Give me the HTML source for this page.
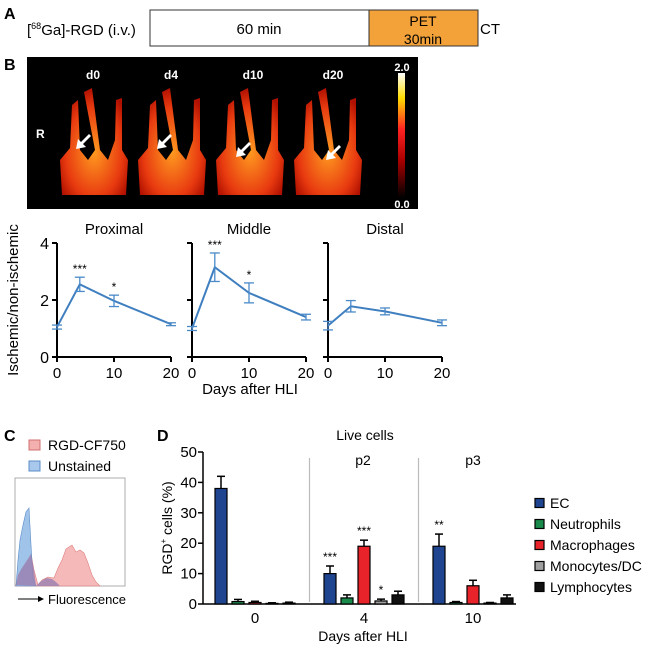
<!DOCTYPE html>
<html><head><meta charset="utf-8">
<style>
body{margin:0;background:#fff;}
svg{display:block;font-family:"Liberation Sans",Arial,sans-serif;}
</style></head>
<body>
<svg width="655" height="651" viewBox="0 0 655 651">
<defs>
<linearGradient id="cbar" x1="0" y1="1" x2="0" y2="0">
<stop offset="0" stop-color="#000"/><stop offset="0.3" stop-color="#a00"/><stop offset="0.55" stop-color="#f22"/><stop offset="0.8" stop-color="#fd0"/><stop offset="1" stop-color="#fff"/></linearGradient>
<radialGradient id="heat" cx="0.5" cy="0.6" r="0.6"><stop offset="0" stop-color="#ff9a20"/><stop offset="0.7" stop-color="#e83a10"/><stop offset="1" stop-color="#b01000"/></radialGradient>
<path id="arrow" d="M0,0 L2,-10 L5,-7 L13,-15 L15,-13 L7,-5 L10,-2 Z" fill="#fff"/>
</defs>

<!-- Panel A -->
<text x="4" y="19" font-size="16" font-weight="bold">A</text>
<text x="27" y="35" font-size="15">[<tspan font-size="9" dy="-6">68</tspan><tspan dy="6">Ga]-RGD (i.v.)</tspan></text>
<rect x="150" y="10" width="219" height="36" fill="#fff" stroke="#333"/>
<text x="259" y="34" font-size="15" text-anchor="middle">60 min</text>
<rect x="369" y="10" width="109" height="36" fill="#f3a23a" stroke="#333"/>
<text x="423" y="26" font-size="14" text-anchor="middle">PET</text>
<text x="423" y="44" font-size="14" text-anchor="middle">30min</text>
<text x="480" y="34" font-size="15">CT</text>

<!-- Panel B image -->
<text x="4" y="70" font-size="16" font-weight="bold">B</text>
<g>
<rect x="27" y="57" width="391" height="152" fill="#000"/>
<g id="mouse">
<path d="M62,195 L60,160 L70,148 L72,105 L78,100 L80,150 L88,160 L95,150 L84,92 L92,88 L100,150 L108,160 L115,140 L116,100 L122,98 L122,150 L128,160 L126,195 Z" fill="url(#heat)"/>
</g>
<use href="#mouse" x="78"/><use href="#mouse" x="156"/><use href="#mouse" x="234"/>
<text x="93" y="79" font-size="12" font-weight="bold" fill="#fff" text-anchor="middle">d0</text>
<text x="171" y="79" font-size="12" font-weight="bold" fill="#fff" text-anchor="middle">d4</text>
<text x="253" y="79" font-size="12" font-weight="bold" fill="#fff" text-anchor="middle">d10</text>
<text x="333" y="79" font-size="12" font-weight="bold" fill="#fff" text-anchor="middle">d20</text>
<text x="36" y="138" font-size="12" font-weight="bold" fill="#fff">R</text>
<use href="#arrow" x="76" y="149"/>
<use href="#arrow" x="157" y="149"/>
<use href="#arrow" x="236" y="157"/>
<use href="#arrow" x="326" y="160"/>
<rect x="398" y="73" width="7" height="125" fill="url(#cbar)"/>
<text x="402" y="71" font-size="11" font-weight="bold" fill="#fff" text-anchor="middle">2.0</text>
<text x="402" y="208" font-size="11" font-weight="bold" fill="#fff" text-anchor="middle">0.0</text>
</g>

<g id="lineCharts"></g>
<text transform="translate(18,300) rotate(-90)" font-size="15" text-anchor="middle">Ischemic/non-ischemic</text>
<text x="250" y="394" font-size="15" text-anchor="middle">Days after HLI</text>

<!-- Panel C -->
<text x="4" y="441" font-size="16" font-weight="bold">C</text>
<rect x="29" y="440" width="11" height="10" fill="#f4b0ae" stroke="#d07070"/>
<text x="48" y="450" font-size="14">RGD-CF750</text>
<rect x="29" y="461" width="11" height="10" fill="#a8c8ec" stroke="#5a8cc8"/>
<text x="48" y="471" font-size="14">Unstained</text>
<g>
<rect x="15" y="478" width="110" height="108" fill="#fff" stroke="#999" stroke-width="0.8"/>
<path d="M16,585 L18,575 L22,568 L28,559 L31,554 L34,570 L38,585 L42,580 L48,577 L54,578 L58,568 L62,560 L66,549 L72,545 L76,552 L80,550 L84,553 L88,563 L92,575 L96,582 L100,586 L16,586Z" fill="#f2a8a8" fill-opacity="0.8" stroke="#e08080" stroke-width="0.6"/>
<path d="M16,586 L18,560 L20,540 L23,525 L26,512 L29,508 L31,545 L33,578 L36,586Z" fill="#8fb8e6" fill-opacity="0.85" stroke="#5a8cc8" stroke-width="0.6"/>
<path d="M16,585 L18,575 L22,568 L28,559 L31,554 L34,570 L36,586Z M36,586 L40,582 L46,578 L52,579 L56,582 L60,586Z" fill="#9a80b0" fill-opacity="0.8"/>
</g>
<line x1="18" y1="599" x2="40" y2="599" stroke="#000"/>
<path d="M38,596 L44,599 L38,602Z" fill="#000"/>
<text x="48" y="604" font-size="13">Fluorescence</text>

<!-- Panel D -->
<text x="157" y="441" font-size="16" font-weight="bold">D</text>
<g id="barChart"></g>
<text transform="translate(172,528) rotate(-90)" font-size="14" text-anchor="middle">RGD<tspan font-size="8" dy="-6">+</tspan><tspan dy="6"> cells (%)</tspan></text>
<text x="365" y="440" font-size="14" text-anchor="middle">Live cells</text>
<text x="363" y="465" font-size="14" text-anchor="middle">p2</text>
<text x="473" y="465" font-size="14" text-anchor="middle">p3</text>
<text x="363" y="641" font-size="14" text-anchor="middle">Days after HLI</text>
<g id="legendD"></g>
</svg>
<script>
// ---- Panel B data ----
const days = [0, 4, 10, 20];
const panelTitles = ["Proximal", "Middle", "Distal"];
const proximalMean = [1.05, 2.55, 1.97, 1.15];
const proximalErr = [0.07, 0.25, 0.2, 0.05];
const middleMean = [1.0, 3.15, 2.25, 1.4];
const middleErr = [0.07, 0.5, 0.35, 0.1];
const distalMean = [1.1, 1.78, 1.6, 1.2];
const distalErr = [0.15, 0.2, 0.12, 0.1];
const proximalStars = ["", "***", "*", ""];
const middleStars = ["", "***", "*", ""];
const distalStars = ["", "", "", ""];
const yTicksB = [0, 2, 4];
const xTicksB = [0, 10, 20];

// ---- Panel D data ----
const groups = ["0", "4", "10"];
const cellTypes = ["EC", "Neutrophils", "Macrophages", "Monocytes/DC", "Lymphocytes"];
const ecVals = [38, 10, 19];
const ecErr = [4, 2.5, 4];
const neutVals = [0.8, 2, 0.5];
const neutErr = [0.7, 1, 0.3];
const macroVals = [0.5, 19, 6];
const macroErr = [0.4, 2, 1.8];
const monoVals = [0.2, 1, 0.3];
const monoErr = [0.2, 0.6, 0.2];
const lymphVals = [0.3, 3, 2];
const lymphErr = [0.3, 1.2, 1];
const starsD = [["", "", "", "", ""], ["***", "", "***", "*", ""], ["**", "", "", "", ""]];
const yTicksD = [0, 10, 20, 30, 40, 50];
const colorsD = ["#1f4591", "#1a8a4a", "#e8232a", "#a0a0a0", "#111"];

const NS = "http://www.w3.org/2000/svg";
function mk(tag, attrs, parent) {
  const e = document.createElementNS(NS, tag);
  for (const k in attrs) e.setAttribute(k, attrs[k]);
  parent.appendChild(e);
  return e;
}

// Line charts
const lc = document.getElementById("lineCharts");
const panelX0 = [57, 192, 328];
const means = [proximalMean, middleMean, distalMean];
const errs = [proximalErr, middleErr, distalErr];
const stars = [proximalStars, middleStars, distalStars];
const yB = v => 357 - v * 28.5;
panelTitles.forEach((t, p) => {
  const x0 = panelX0[p];
  const xB = d => x0 + d * 5.7;
  const g = mk("g", {}, lc);
  
  
  const tt = mk("text", {x: x0 + 57, y: 234, "font-size": 15, "text-anchor": "middle"}, g);
  tt.textContent = t;
  
  
  mk("line", {x1: x0, y1: yB(4), x2: x0, y2: yB(0), stroke: "#000", "stroke-width": 2}, g);
  mk("line", {x1: x0, y1: yB(0), x2: xB(20), y2: yB(0), stroke: "#000", "stroke-width": 2}, g);
  yTicksB.forEach(v => {
    mk("line", {x1: x0 - 5, y1: yB(v), x2: x0, y2: yB(v), stroke: "#000", "stroke-width": 2}, g);
    if (p === 0) {
      const l = mk("text", {x: x0 - 8, y: yB(v) + 6, "font-size": 16, "text-anchor": "end"}, g);
      l.textContent = v;
      
      
    }
  });
  xTicksB.forEach(d => {
    mk("line", {x1: xB(d), y1: yB(0), x2: xB(d), y2: yB(0) + 5, stroke: "#000", "stroke-width": 2}, g);
    const l = mk("text", {x: xB(d), y: 378, "font-size": 15, "text-anchor": "middle"}, g);
    l.textContent = d;
    
    
  });
  const m = means[p], e = errs[p];
  const pts = days.map((d, i) => xB(d) + "," + yB(m[i])).join(" ");
  const pl = mk("polyline", {points: pts, fill: "none", stroke: "#3f7fc0", "stroke-width": 2}, g);
  
  
  days.forEach((d, i) => {
    const x = xB(d), hi = yB(m[i] + e[i]), lo = yB(m[i] - e[i]);
    mk("line", {x1: x, y1: hi, x2: x, y2: lo, stroke: "#4a8ac8", "stroke-width": 1.3}, g);
    mk("line", {x1: x - 5, y1: hi, x2: x + 5, y2: hi, stroke: "#4a8ac8", "stroke-width": 1.3}, g);
    mk("line", {x1: x - 5, y1: lo, x2: x + 5, y2: lo, stroke: "#4a8ac8", "stroke-width": 1.3}, g);
    if (stars[p][i]) {
      const s = mk("text", {x: x, y: hi - 4, "font-size": 12, "text-anchor": "middle"}, g);
      s.textContent = stars[p][i];
      
      
    }
  });
});

// Bar chart
const bc = document.getElementById("barChart");
const vals = [ecVals, neutVals, macroVals, monoVals, lymphVals];
const errsD = [ecErr, neutErr, macroErr, monoErr, lymphErr];
const yD = v => 604 - v * 3.04;
const groupCenter = i => 255 + i * 109;
const barW = 12, barStep = 17;
mk("line", {x1: 203, y1: yD(50), x2: 203, y2: yD(0), stroke: "#000", "stroke-width": 1.5}, bc);
mk("line", {x1: 203, y1: yD(0), x2: 516, y2: yD(0), stroke: "#000", "stroke-width": 1.5}, bc);
yTicksD.forEach(v => {
  mk("line", {x1: 198, y1: yD(v), x2: 203, y2: yD(v), stroke: "#000", "stroke-width": 1.5}, bc);
  const l = mk("text", {x: 197, y: yD(v) + 5, "font-size": 15, "text-anchor": "end"}, bc);
  l.textContent = v;
  
  
});
[0.5, 1.5].forEach(k => {
  mk("line", {x1: groupCenter(k), y1: 458, x2: groupCenter(k), y2: 602, stroke: "#bbb", "stroke-width": 1.2}, bc);
});
groups.forEach((gname, gi) => {
  const c = groupCenter(gi);
  const l = mk("text", {x: c, y: 623, "font-size": 15, "text-anchor": "middle"}, bc);
  l.textContent = gname;
  
  
  cellTypes.forEach((ct, si) => {
    const v = vals[si][gi], e = errsD[si][gi];
    const x = c + (si - 2) * barStep - barW / 2;
    mk("line", {x1: x + barW / 2, y1: yD(v), x2: x + barW / 2, y2: yD(v + e), stroke: "#000", "stroke-width": 1.5}, bc);
    mk("line", {x1: x + barW / 2 - 4, y1: yD(v + e), x2: x + barW / 2 + 4, y2: yD(v + e), stroke: "#000", "stroke-width": 1.5}, bc);
    const r = mk("rect", {x: x, y: yD(v), width: barW, height: Math.max(yD(0) - yD(v), 0.5), fill: colorsD[si], stroke: "#000", "stroke-width": 1.2}, bc);
    
    
    if (starsD[gi][si]) {
      const s = mk("text", {x: x + barW / 2, y: yD(v + e) - 5, "font-size": 12, "text-anchor": "middle"}, bc);
      s.textContent = starsD[gi][si];
      
      
    }
  });
});

// Legend D
const lg = document.getElementById("legendD");
cellTypes.forEach((ct, i) => {
  const y = 503 + i * 21;
  const sw = mk("rect", {x: 535, y: y - 4.5, width: 9, height: 9, fill: colorsD[i], stroke: "#000", "stroke-width": 1.2}, lg);
  
  
  const t = mk("text", {x: 550, y: y + 5, "font-size": 14}, lg);
  t.textContent = ct;
  
  
});
</script>
</body></html>
